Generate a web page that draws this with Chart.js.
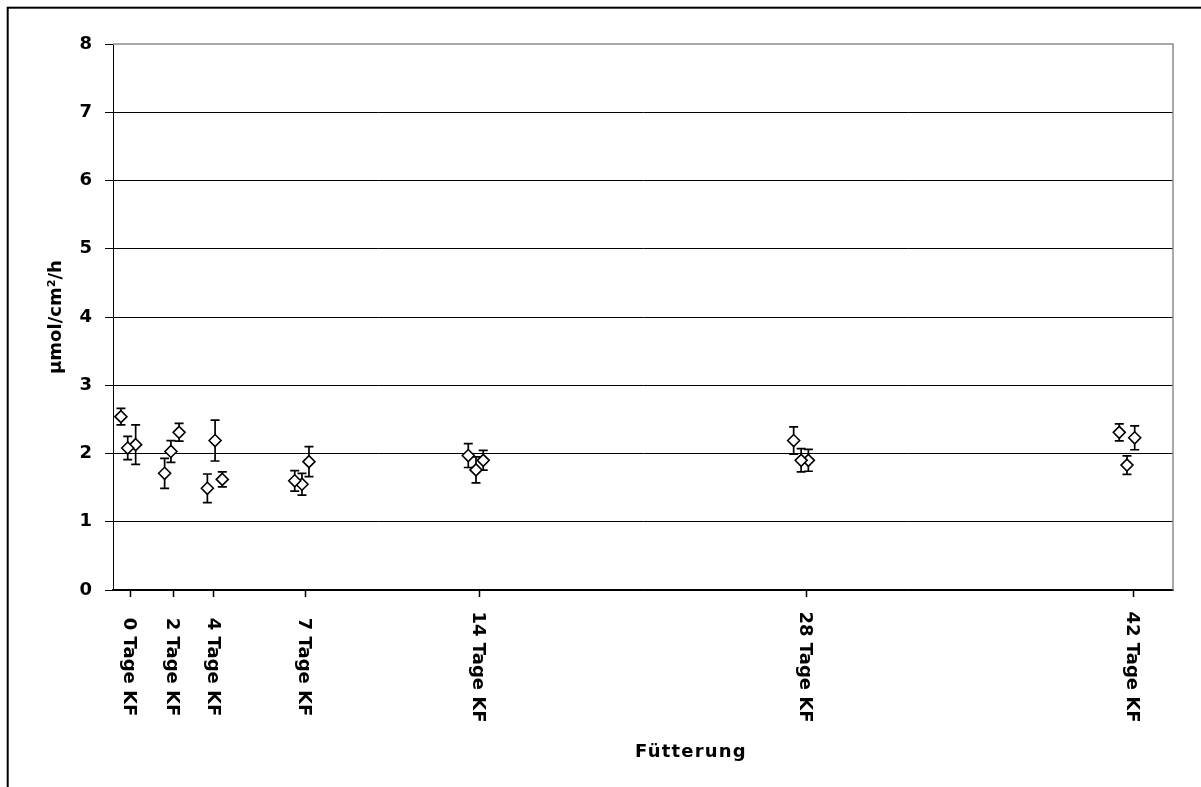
<!DOCTYPE html>
<html>
<head>
<meta charset="utf-8">
<script src="https://cdn.jsdelivr.net/npm/chart.js@4/dist/chart.umd.min.js"></script>
<style>
  html, body { margin: 0; padding: 0; background: #fff; }
  canvas { display: block; }
</style>
</head>
<body>
<canvas id="c" width="1201" height="787"></canvas>
<script>
// ---- Data ----
const tickLabels = ['0 Tage KF', '2 Tage KF', '4 Tage KF', '7 Tage KF', '14 Tage KF', '28 Tage KF', '42 Tage KF'];
const tickPositions = [-0.94, 0.9, 2.65, 6.55, 14, 28, 42];

const xSeries1 = [-1.33, 0.54, 2.37, 6.11, 13.54, 27.47, 41.41];
const ySeries1 = [2.54, 1.71, 1.49, 1.60, 1.97, 2.19, 2.31];
const errSeries1 = [0.12, 0.22, 0.21, 0.15, 0.175, 0.20, 0.125];

const xSeries2 = [-1.04, 0.81, 2.70, 6.42, 13.87, 27.79, 41.74];
const ySeries2 = [2.08, 2.03, 2.19, 1.55, 1.76, 1.90, 1.83];
const errSeries2 = [0.17, 0.16, 0.30, 0.16, 0.19, 0.17, 0.135];

const xSeries3 = [-0.70, 1.16, 3.01, 6.72, 14.18, 28.10, 42.07];
const ySeries3 = [2.13, 2.31, 1.62, 1.88, 1.90, 1.90, 2.23];
const errSeries3 = [0.29, 0.13, 0.11, 0.22, 0.145, 0.16, 0.175];

const yTitle = 'µmol/cm²/h';
const xTitle = 'Fütterung';

const FONT = '"DejaVu Sans", Arial, sans-serif';

function makeSeries(xs, ys, errs) {
  return {
    data: xs.map((x, i) => ({ x: x, y: ys[i] })),
    errors: errs,
    showLine: false,
    pointStyle: 'rectRot',
    pointRadius: 6,
    pointHoverRadius: 6,
    pointBorderWidth: 1.6,
    pointBorderColor: '#000',
    pointBackgroundColor: '#fff',
    borderColor: '#000',
    backgroundColor: '#fff'
  };
}

const errorBarPlugin = {
  id: 'errorBars',
  beforeDatasetsDraw(chart) {
    const ctx = chart.ctx;
    const xs = chart.scales.x, ys = chart.scales.y;
    ctx.save();
    ctx.strokeStyle = '#000';
    ctx.lineWidth = 1.7;
    chart.data.datasets.forEach(ds => {
      ds.data.forEach((d, j) => {
        const e = ds.errors[j];
        const px = xs.getPixelForValue(d.x);
        const top = ys.getPixelForValue(d.y + e);
        const bot = ys.getPixelForValue(d.y - e);
        const cap = 4.5;
        ctx.beginPath();
        ctx.moveTo(px, top); ctx.lineTo(px, bot);
        ctx.moveTo(px - cap, top); ctx.lineTo(px + cap, top);
        ctx.moveTo(px - cap, bot); ctx.lineTo(px + cap, bot);
        ctx.stroke();
      });
    });
    ctx.restore();
  }
};

const framePlugin = {
  id: 'frame',
  beforeDraw(chart) {
    const ctx = chart.ctx;
    ctx.save();
    ctx.fillStyle = '#fff';
    ctx.fillRect(0, 0, chart.width, chart.height);
    ctx.restore();
  },
  afterDraw(chart) {
    const ctx = chart.ctx;
    const a = chart.chartArea;
    ctx.save();
    // outer border (runs off right/bottom edges)
    ctx.strokeStyle = '#000';
    ctx.lineWidth = 2;
    ctx.strokeRect(7.7, 7.7, chart.width + 20, chart.height + 20);
    // plot area border (top/right grey)
    ctx.strokeStyle = '#8c8c8c';
    ctx.lineWidth = 1.5;
    ctx.beginPath();
    ctx.moveTo(a.left, a.top);
    ctx.lineTo(a.right, a.top);
    ctx.lineTo(a.right, a.bottom);
    ctx.stroke();
    // x tick labels, rotated clockwise
    const xs = chart.scales.x;
    ctx.fillStyle = '#000';
    ctx.font = 'bold 18px ' + FONT;
    ctx.textAlign = 'center';
    ctx.textBaseline = 'middle';
    tickPositions.forEach((v, i) => {
      const px = xs.getPixelForValue(v);
      ctx.save();
      ctx.translate(px - 1, a.bottom + 77);
      ctx.rotate(Math.PI / 2);
      ctx.fillText(tickLabels[i], 0, 0);
      ctx.restore();
    });
    // x axis title
    ctx.font = 'bold 18px ' + FONT;
    if ('letterSpacing' in ctx) ctx.letterSpacing = '1.2px';
    ctx.fillText(xTitle, (a.left + a.right) / 2 + 48, a.bottom + 162);
    ctx.restore();
  }
};

new Chart(document.getElementById('c'), {
  type: 'scatter',
  data: {
    datasets: [
      makeSeries(xSeries1, ySeries1, errSeries1),
      makeSeries(xSeries2, ySeries2, errSeries2),
      makeSeries(xSeries3, ySeries3, errSeries3)
    ]
  },
  options: {
    responsive: false,
    animation: false,
    devicePixelRatio: 1,
    layout: { padding: { top: 44, right: 28, left: 0, bottom: 0 } },
    plugins: {
      legend: { display: false },
      tooltip: { enabled: false }
    },
    scales: {
      x: {
        type: 'linear',
        min: -1.67,
        max: 43.71,
        afterBuildTicks(scale) {
          scale.ticks = tickPositions.map(v => ({ value: v }));
        },
        afterFit(scale) { scale.height = 197; },
        ticks: { display: false },
        grid: {
          drawOnChartArea: false,
          drawTicks: true,
          tickLength: 7,
          tickColor: '#000',
          tickWidth: 1.5
        },
        border: { display: true, color: '#000', width: 1.5 }
      },
      y: {
        min: 0,
        max: 8,
        afterFit(scale) { scale.width = 113; },
        ticks: {
          stepSize: 1,
          padding: 13,
          color: '#000',
          font: { family: FONT, size: 18, weight: 'bold' }
        },
        grid: {
          color: c => (c.tick && c.tick.value === 8) ? 'rgba(0,0,0,0)' : '#000',
          lineWidth: 1,
          tickLength: 8,
          tickColor: '#000',
          tickWidth: 1
        },
        border: { display: true, color: '#000', width: 1 },
        title: {
          display: true,
          text: yTitle,
          color: '#000',
          font: { family: FONT, size: 18, weight: 'bold' },
          padding: { top: 46, bottom: 0 }
        }
      }
    }
  },
  plugins: [errorBarPlugin, framePlugin]
});
</script>
</body>
</html>
